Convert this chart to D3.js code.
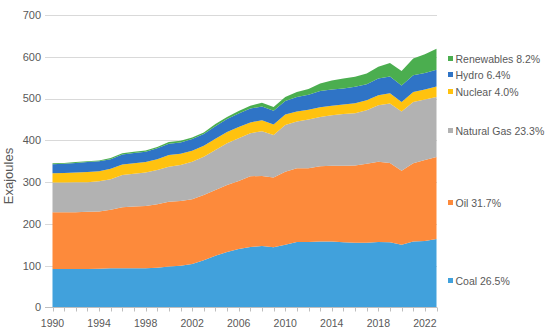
<!DOCTYPE html>
<html>
<head>
<meta charset="utf-8">
<script src="https://cdn.jsdelivr.net/npm/d3@7"></script>
<style>
body { margin: 0; background: #fff; }
text { font-family: "Liberation Sans", Arial, sans-serif; fill: #595959; }
</style>
</head>
<body>
<div id="chart"></div>
<script>
// values in exajoules
var years = d3.range(1990, 2024);
var coal = [92, 92, 92, 92, 93, 94, 94, 94, 94, 95, 98, 100, 104, 113, 124, 133, 140, 145, 147, 144,
    150, 157, 157, 158, 158, 156, 155, 155, 157, 156, 150, 158, 159, 164];
var oil = [136, 136, 136, 137, 137, 140, 146, 148, 149, 152, 155, 155, 155, 156, 157, 160, 163, 169, 168, 167,
    175, 176, 176, 180, 181, 183, 185, 189, 192, 190, 177, 187, 194, 196];
var gas = [71, 71, 72, 71, 72, 73, 77, 78, 80, 82, 84, 86, 90, 92, 96, 100, 102, 103, 107, 102,
    112, 112, 117, 118, 121, 124, 125, 128, 135, 142, 142, 147, 145, 144];
var nuclear = [22, 23, 23, 24, 24, 25, 25, 25, 25, 26, 28, 27, 26, 26, 27, 27, 27, 26, 26, 25,
    25, 24, 23, 23, 23, 23, 24, 24, 24, 25, 23, 24, 24, 25];
var hydro = [22, 22, 23, 24, 24, 23, 24, 25, 25, 26, 27, 27, 28, 28, 30, 31, 32, 33, 33, 33,
    32, 35, 36, 39, 39, 38, 39, 38, 40, 40, 39, 40, 39, 40];
var renewables = [2, 2, 2, 2, 2, 3, 3, 3, 3, 3, 4, 4, 4, 4, 5, 5, 6, 7, 9, 9,
    10, 12, 14, 18, 21, 24, 24, 26, 28, 32, 35, 40, 45, 50];

var keys = ["coal", "oil", "gas", "nuclear", "hydro", "renewables"];
var labels = ["Coal 26.5%", "Oil 31.7%", "Natural Gas 23.3%", "Nuclear 4.0%", "Hydro 6.4%", "Renewables 8.2%"];
var colours = ["#41a1dc", "#fd8a3b", "#b2b2b2", "#ffc20f", "#2f74c6", "#4bae4f"];
var yTicks = [0, 100, 200, 300, 400, 500, 600, 700];
var xTicks = [1990, 1994, 1998, 2002, 2006, 2010, 2014, 2018, 2022];

var series = {coal: coal, oil: oil, gas: gas, nuclear: nuclear, hydro: hydro, renewables: renewables};
var table = years.map(function (yr, i) {
    var row = {year: yr};
    keys.forEach(function (k) { row[k] = series[k][i]; });
    return row;
});

var width = 550, height = 335;

var svg = d3.select("#chart")
.append("svg")
.attr("width", width)
.attr("height", height);

var x = d3.scaleLinear()
.domain([1990, 2023])
.range([52.5, 436.5]);

var y = d3.scaleLinear()
.domain([0, 700])
.range([307.5, 15]);

// gridlines + y labels
svg.append("g")
.selectAll("line")
.data(yTicks.slice(1))
.enter()
.append("line")
.attr("x1", 45)
.attr("x2", 437)
.attr("y1", function (d) { return Math.round(y(d)) + 0.5; })
.attr("y2", function (d) { return Math.round(y(d)) + 0.5; })
.style("stroke", "#d9d9d9")
.style("stroke-width", 1);

svg.append("g")
.selectAll("text")
.data(yTicks)
.enter()
.append("text")
.attr("x", 41)
.attr("y", function (d) { return y(d); })
.attr("dy", "0.35em")
.attr("text-anchor", "end")
.style("font-size", "11px")
.text(function (d) { return d; });

var stack = d3.stack().keys(keys);
var layers = stack(table);

var area = d3.area()
.x(function (d) { return x(d.data.year); })
.y0(function (d) { return y(d[0]); })
.y1(function (d) { return y(d[1]); });

svg.append("g")
.selectAll("path")
.data(layers)
.enter()
.append("path")
.attr("d", area)
.style("fill", function (d, i) { return colours[i]; });

// x axis
var xAxis = svg.append("g")
.attr("transform", "translate(0,307.5)");

xAxis.append("line")
.attr("x1", 45)
.attr("x2", 437)
.style("stroke", "#bfbfbf");

xAxis.selectAll(".tick")
.data(years)
.enter()
.append("line")
.attr("x1", function (d) { return Math.round(x(d)) + 0.5; })
.attr("x2", function (d) { return Math.round(x(d)) + 0.5; })
.attr("y1", 0)
.attr("y2", 4)
.style("stroke", "#bfbfbf");

xAxis.selectAll("text")
.data(xTicks)
.enter()
.append("text")
.attr("x", function (d) { return x(d); })
.attr("y", 19)
.attr("text-anchor", "middle")
.style("font-size", "10.5px")
.text(function (d) { return d; });

svg.append("text")
.attr("transform", "translate(13,176) rotate(-90)")
.attr("text-anchor", "middle")
.style("font-size", "13px")
.text("Exajoules");

// legend, placed beside each band
var legendY = [281, 203, 131, 92, 75, 59];
var legend = svg.append("g")
.selectAll("g")
.data(keys)
.enter()
.append("g")
.attr("transform", function (d, i) { return "translate(448," + legendY[i] + ")"; });

legend.append("rect")
.attr("x", 0)
.attr("y", -3)
.attr("width", 5)
.attr("height", 5)
.style("fill", function (d, i) { return colours[i]; });

legend.append("text")
.attr("x", 7.5)
.attr("y", 0)
.attr("dy", "0.35em")
.style("font-size", "10.5px")
.text(function (d, i) { return labels[i]; });
</script>
</body>
</html>
